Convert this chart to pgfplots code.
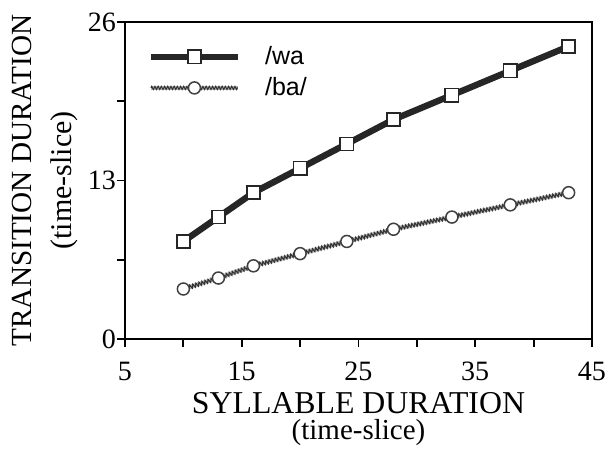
\documentclass[border=0pt]{standalone}
\usepackage{pgfplots}
\pgfplotsset{compat=1.18}
\usepackage{fontspec}
\setmainfont{Liberation Serif}
\setsansfont{Liberation Sans}
\usetikzlibrary{decorations.pathmorphing}

\begin{document}
\begin{tikzpicture}
\begin{axis}[
  name=ax,
  scale only axis, width=233.5pt, height=158.5pt,
  xmin=5, xmax=45, ymin=0, ymax=26,
  xtick={5,15,25,35,45}, minor xtick={10,20,30,40},
  ytick={0,13,26}, minor ytick={6.5,19.5},
  tick pos=left, tick align=outside,
  major tick length=4pt, minor tick length=4pt,
  tick style={black, line width=0.9pt},
  axis line style={line width=0.9pt},
  /pgf/number format/assume math mode=true,
  ticklabel style={font=\fontsize{14}{16}\selectfont},
  xticklabel style={yshift=-4pt},
  yticklabel style={xshift=3pt},
  xlabel={{\fontsize{15.9}{13.4}\selectfont SYLLABLE DURATION}\\{\fontsize{14.5}{13.4}\selectfont (time-slice)}},
  xlabel style={align=center, font=\fontsize{15}{13.4}\selectfont,
    at={([yshift=-23pt]axis description cs:0.5,0)}, anchor=north},
  ylabel={{\fontsize{14.6}{20}\selectfont TRANSITION DURATION}\\{\fontsize{15}{20}\selectfont (time-slice)}},
  ylabel style={align=center, font=\fontsize{15}{20}\selectfont,
    at={([xshift=-20pt]axis description cs:0,0.5)}, anchor=south},
  legend style={at={(0.035,0.95)}, anchor=north west, draw=none, fill=none,
    font=\sffamily\fontsize{12.5}{14}\selectfont, row sep=1pt, column sep=10pt,
    nodes={inner sep=2pt}},
  legend cell align=left,
  legend image code/.code={\draw[mark repeat=2, mark phase=2, #1] plot coordinates {(0pt,0pt)(21.75pt,0pt)(43.5pt,0pt)};},
]
\addplot[black!85, line width=3.2pt, mark=square*, mark size=3.3pt,
  mark options={fill=white, draw=black!85, line width=0.8pt, solid}]
  coordinates {(10,8)(13,10)(16,12)(20,14)(24,16)(28,18)(33,20)(38,22)(43,24)};
\addlegendentry{/wa}
\addplot[forget plot, gray!60, line width=2.2pt, no marks]
  coordinates {(10,4.1)(13,5)(16,6)(20,7)(24,8)(28,9)(33,10)(38,11)(43,12)};
\addplot[forget plot, black!80, line width=0.55pt, no marks, decorate,
  decoration={zigzag, amplitude=0.9pt, segment length=1.6pt}]
  coordinates {(10,4.1)(13,5)(16,6)(20,7)(24,8)(28,9)(33,10)(38,11)(43,12)};
\addplot[forget plot, only marks, mark=*, mark size=3pt,
  mark options={fill=white, draw=black!75, line width=0.75pt}]
  coordinates {(10,4.1)(13,5)(16,6)(20,7)(24,8)(28,9)(33,10)(38,11)(43,12)};
\addlegendimage{gray!60, line width=1.8pt, mark=*, mark size=3pt,
  mark options={fill=white, draw=black!75, line width=0.75pt},
  postaction={draw=black!80, line width=0.5pt, decorate, decoration={zigzag, amplitude=0.8pt, segment length=1.6pt}}}
\addlegendentry{/ba/}
\end{axis}
\pgfresetboundingbox
\path[use as bounding box] ([shift={(-62.5pt,-56pt)}]ax.south west) rectangle ([shift={(9pt,11pt)}]ax.north east);
\end{tikzpicture}
\end{document}
